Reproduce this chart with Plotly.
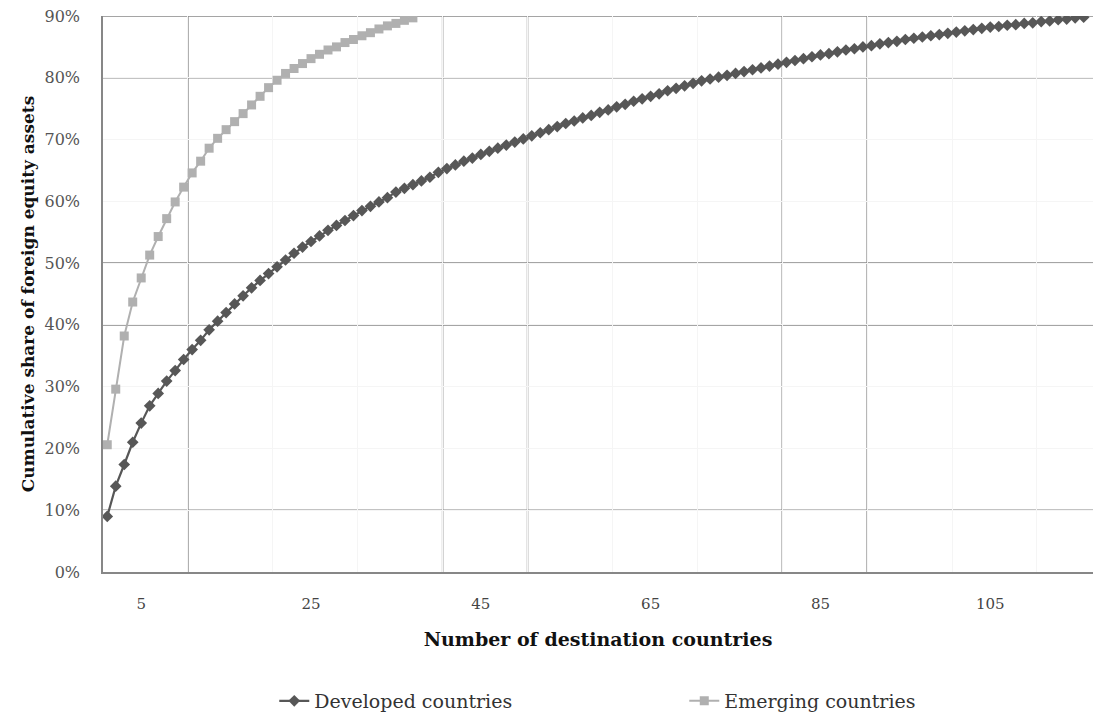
import plotly.graph_objects as go

# ---------------- data ----------------
developed_share = [
    9.0, 13.9, 17.4, 21.0, 24.1, 26.9, 28.9, 30.9, 32.6, 34.4,
    36.0, 37.5, 39.2, 40.6, 42.0, 43.4, 44.7, 46.0, 47.2, 48.3,
    49.4, 50.5, 51.6, 52.6, 53.5, 54.4, 55.3, 56.1, 56.9, 57.7,
    58.5, 59.2, 59.9, 60.6, 61.5, 62.1, 62.7, 63.3, 63.9, 64.7,
    65.3, 65.9, 66.5, 67.0, 67.6, 68.1, 68.6, 69.1, 69.6, 70.1,
    70.6, 71.1, 71.6, 72.1, 72.6, 73.0, 73.5, 73.9, 74.4, 74.8,
    75.3, 75.7, 76.2, 76.6, 77.0, 77.4, 77.9, 78.3, 78.7, 79.1,
    79.5, 79.8, 80.1, 80.4, 80.7, 81.0, 81.3, 81.6, 81.9, 82.2,
    82.5, 82.8, 83.1, 83.4, 83.7, 83.9, 84.2, 84.5, 84.7, 85.0,
    85.2, 85.5, 85.7, 85.9, 86.2, 86.4, 86.6, 86.8, 87.0, 87.2,
    87.4, 87.6, 87.8, 88.0, 88.2, 88.3, 88.5, 88.6, 88.8, 88.9,
    89.1, 89.2, 89.4, 89.5, 89.7, 89.8,
]
emerging_share = [
    20.6, 29.6, 38.2, 43.7, 47.6, 51.3, 54.3, 57.2, 59.9, 62.3,
    64.6, 66.5, 68.6, 70.2, 71.6, 72.9, 74.2, 75.6, 77.0, 78.4,
    79.6, 80.7, 81.5, 82.3, 83.1, 83.8, 84.5, 85.0, 85.7, 86.2,
    86.8, 87.3, 87.9, 88.4, 88.8, 89.3, 89.7,
]
developed_n = list(range(1, len(developed_share) + 1))
emerging_n = list(range(1, len(emerging_share) + 1))

series_names = ["Developed countries", "Emerging countries"]
x_tick_values = [5, 25, 45, 65, 85, 105]
y_tick_values = [0, 0.1, 0.2, 0.3, 0.4, 0.5, 0.6, 0.7, 0.8, 0.9]
x_title = "Number of destination countries"
y_title = "Cumulative share of foreign equity assets"

# ---------------- style ----------------
SERIF = "DejaVu Serif"
DARK_GRID = "#878787"
FAINT_GRID = "#f5f5f5"
DARK_VGRID = [10.5, 40.5, 50.5, 80.5, 90.5]
DARK_HGRID = [0.1, 0.4, 0.5, 0.8, 0.9]

fig = go.Figure()
fig.add_trace(go.Scatter(
    x=developed_n, y=[v / 100 for v in developed_share],
    mode="lines+markers", name=series_names[0],
    line=dict(color="#575757", width=2.2),
    marker=dict(symbol="diamond", size=9, color="#575757"),
))
fig.add_trace(go.Scatter(
    x=emerging_n, y=[v / 100 for v in emerging_share],
    mode="lines+markers", name=series_names[1],
    line=dict(color="#b0b0b0", width=2),
    marker=dict(symbol="square", size=9, color="#b0b0b0"),
))

shapes = []
for xv in DARK_VGRID:
    shapes.append(dict(type="line", xref="x", yref="paper", x0=xv, x1=xv, y0=0, y1=1,
                       line=dict(color=DARK_GRID, width=1.5), layer="below"))
for yv in DARK_HGRID:
    shapes.append(dict(type="line", xref="paper", yref="y", x0=0, x1=1, y0=yv, y1=yv,
                       line=dict(color=DARK_GRID, width=1.5), layer="below"))

fig.update_layout(
    width=1093, height=715,
    margin=dict(l=103, r=0, t=16, b=143, autoexpand=False),
    paper_bgcolor="white", plot_bgcolor="white",
    font=dict(family=SERIF, color="#444444", size=15),
    shapes=shapes,
    showlegend=True,
    legend=dict(orientation="h", x=0.173, xanchor="left", y=-0.232, yanchor="middle",
                font=dict(family=SERIF, size=19, color="#333333"),
                entrywidth=365, entrywidthmode="pixels",
                bgcolor="rgba(0,0,0,0)"),
)
fig.update_xaxes(
    range=[0.5, 117.1], automargin=False,
    tickmode="array", tickvals=x_tick_values, ticktext=[str(v) for v in x_tick_values],
    showgrid=False, zeroline=False,
    minor=dict(tick0=0.5, dtick=10, showgrid=True, gridcolor=FAINT_GRID, gridwidth=1),
    showline=True, linecolor=DARK_GRID, linewidth=1.5,
    ticks="", ticklabelstandoff=17,
    tickfont=dict(family=SERIF, size=15, color="#444444"),
    title=dict(text=x_title, standoff=21,
               font=dict(family=SERIF, size=19, color="#111111", weight="bold")),
)
fig.update_yaxes(
    range=[0, 0.9], automargin=False,
    tickmode="array", tickvals=y_tick_values, tickformat=".0%",
    showgrid=True, gridcolor=FAINT_GRID, gridwidth=1, zeroline=False,
    showline=True, linecolor=DARK_GRID, linewidth=1.5,
    ticks="", ticklabelstandoff=18,
    tickfont=dict(family=SERIF, size=16, color="#555555"),
    title=dict(text=y_title, standoff=6,
               font=dict(family=SERIF, size=17, color="#111111", weight="bold")),
)

fig.write_html(
    "out.html",
    config={"displayModeBar": False},
    post_script="document.body.style.margin='0';document.body.style.overflow='hidden';",
)
